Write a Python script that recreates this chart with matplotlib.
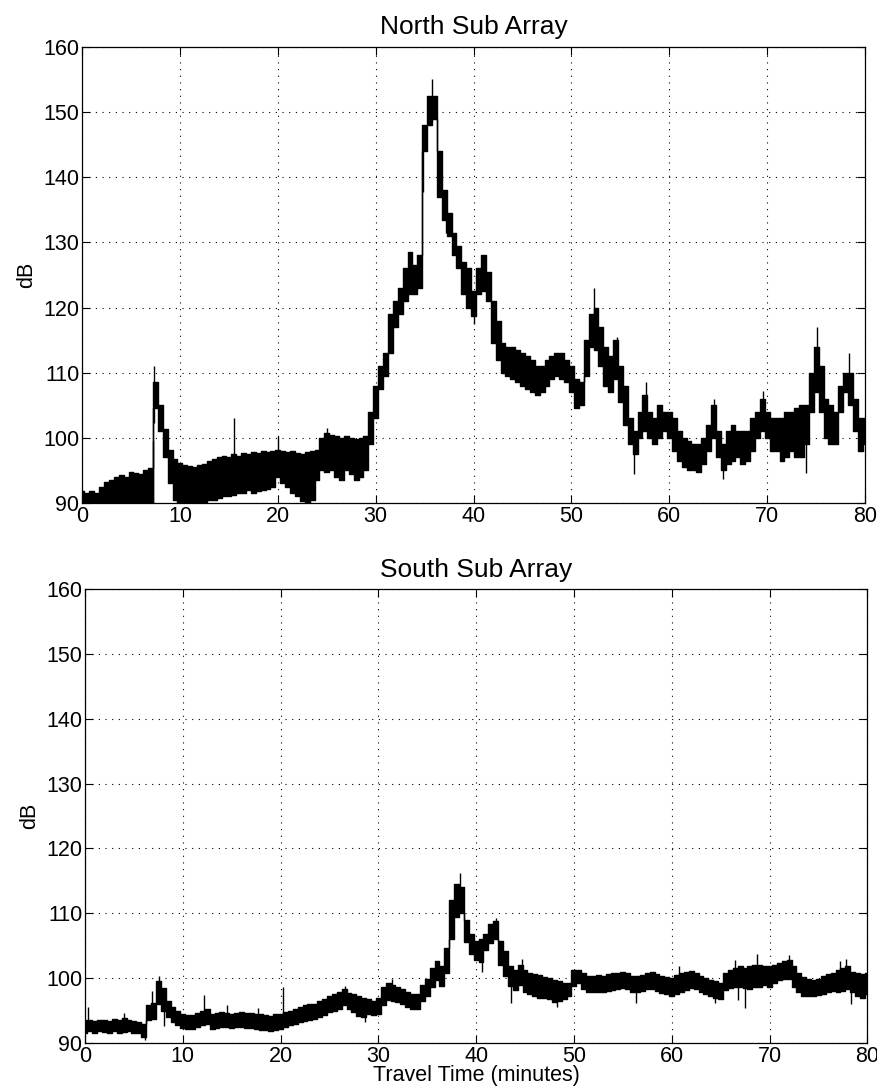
"""North / South sub array received level vs travel time"""

import numpy as np
import matplotlib
matplotlib.use('Agg')
import matplotlib.pyplot as plt

plt.rcParams['font.family'] = ['Liberation Sans', 'DejaVu Sans']

# time axis, minutes (one reading every half minute)
t = np.arange(0, 80.5, 0.5)

# North sub array: lower / upper edge of the noisy trace (dB)
north_lo = [90, 90, 90, 90, 90, 90, 90, 90, 90, 90,
            90, 90, 90, 90, 90, 104.5, 101, 97, 93, 90.5,
            90, 90, 90, 90, 90, 90, 90.5, 90.5, 90.8, 91,
            91, 91.2, 91.5, 91.5, 92, 91.5, 91.8, 92, 92.2, 92.5,
            94, 93, 92.5, 91.5, 91, 90.3, 90, 90.5, 93.5, 95,
            94.8, 95, 94, 93.5, 95, 94.5, 93.5, 94, 95, 99,
            103, 107.5, 109.5, 113, 117, 119, 121, 122, 122, 123,
            144, 148, 149, 137, 133.5, 131, 128, 126, 122, 120,
            118.7, 122, 122.5, 121, 114.5, 112, 110, 109.5, 109, 108.5,
            108, 107.5, 107, 106.5, 107, 108, 109, 109.5, 109, 108.5,
            107, 104.5, 105, 109.5, 114, 113.5, 111, 108, 107, 109,
            105.5, 102, 99, 97.5, 100, 101, 100, 99, 100, 101,
            100, 98, 96.5, 95.5, 95, 95, 94.8, 96, 98, 100,
            97, 95, 96, 96.5, 97, 96, 96.5, 98, 100, 101,
            100, 98, 98, 96.5, 97, 98, 97, 97, 99, 104,
            107, 104, 100, 99, 99, 104, 107, 105, 101, 98,
            99]
north_hi = [91.8, 91.5, 91.8, 91.6, 92.5, 93.2, 93.5, 94, 94.3, 94,
            94.8, 94.6, 94.5, 95, 95.3, 108.5, 105, 101.3, 98.2, 96.7,
            96.2, 95.8, 95.6, 95.5, 95.8, 96, 96.5, 96.8, 97, 97.2,
            97, 97.5, 97.2, 97.6, 97.5, 97.8, 97.6, 98, 97.8, 98,
            98.2, 98, 97.8, 98, 97.6, 97.5, 97.8, 98, 98.2, 100,
            100.8, 100.5, 100.2, 100, 100.3, 100, 99.8, 100, 100.2, 104,
            108, 111, 113, 119, 121, 123, 126, 128.5, 126.5, 128,
            148, 152.5, 152.5, 144, 138, 134.5, 131.5, 129.5, 127, 126,
            122.5, 126, 128, 125.5, 121, 118, 114.5, 114, 114, 113.5,
            113, 112.5, 112, 111, 111, 112, 112.5, 113, 113, 112,
            111, 109, 108.5, 115, 119, 120, 117, 114, 112.5, 115,
            111, 108, 103, 101, 104, 106.5, 104, 103, 105, 104,
            104, 103, 101, 100, 99.5, 99, 99, 100, 102, 105,
            101, 99, 101, 102, 101, 101, 101, 103, 104, 106,
            104, 103, 103, 103, 104, 104, 104.5, 105, 105, 110,
            114, 111, 106, 105, 104, 108, 110, 110, 106, 103,
            103]
# single-sample spikes in the North trace: time, peak value
north_spike_t = [7.25, 7.35, 15.5, 20.0, 25.0, 34.8, 35.8, 37.2, 40.0,
                 52.3, 54.6, 56.4, 57.6, 64.6, 65.5, 69.6, 74.0, 75.1, 78.3]
north_spike_y = [90, 111, 103, 100.3, 101.5, 146, 155, 131.5, 117.5,
                 123, 115.5, 94.5, 108.5, 106, 93.6, 107.2, 94.6, 117, 113]

# South sub array: lower / upper edge of the noisy trace (dB)
south_lo = [91.5, 91.8, 91.6, 91.8, 91.7, 91.6, 91.8, 91.6, 91.7, 91.8,
            91.5, 91.6, 91.0, 93.5, 93.7, 96.0, 95.0, 94.0, 93.3, 92.8,
            92.3, 92.2, 92.2, 92.5, 92.8, 93.0, 92.2, 92.3, 92.5, 92.4,
            92.3, 92.5, 92.4, 92.3, 92.3, 92.2, 92.0, 92.0, 91.8, 92.0,
            92.2, 92.5, 92.8, 93.0, 93.3, 93.4, 93.5, 93.7, 94.0, 94.3,
            94.8, 95.0, 95.3, 95.8, 95.3, 94.8, 94.2, 94.0, 94.5, 94.3,
            94.5, 95.8, 96.7, 96.5, 96.3, 96.0, 95.6, 95.3, 95.2, 96.5,
            97.2, 98.7, 99.7, 98.8, 100.8, 106.0, 109.5, 110.0, 105.5, 103.8,
            102.8, 102.5, 104.3, 105.4, 106.0, 102.0, 100.3, 98.8, 98.2, 99.0,
            97.8, 97.5, 97.2, 97.0, 97.0, 96.8, 96.3, 96.5, 96.8, 97.3,
            98.8, 99.2, 98.3, 97.8, 97.8, 97.9, 97.9, 98.0, 98.2, 98.3,
            98.5, 98.3, 97.8, 97.9, 98.0, 98.3, 98.4, 98.0, 97.7, 97.5,
            97.2, 97.6, 97.8, 98.2, 98.5, 98.3, 97.9, 97.5, 97.2, 97.0,
            96.8, 98.2, 98.5, 98.7, 98.7, 98.5, 98.4, 98.7, 98.7, 99.0,
            98.7, 99.3, 99.7, 99.8, 99.8, 98.7, 97.8, 97.3, 97.2, 97.3,
            97.4, 97.6, 97.8, 98.0, 97.8, 98.0, 98.3, 97.8, 97.2, 97.0,
            97.5]
south_hi = [93.5, 93.6, 93.4, 93.5, 93.6, 93.4, 93.7, 93.5, 93.8, 93.6,
            93.4, 93.3, 93.0, 95.8, 96.2, 99.5, 98.5, 96.5, 95.6, 95.0,
            94.4, 94.3, 94.3, 94.6, 95.0, 95.3, 94.5, 94.6, 94.8, 94.6,
            94.5, 94.7, 94.8, 94.6, 94.7, 94.5, 94.4, 94.3, 94.2, 94.4,
            94.5, 94.8, 95.0, 95.3, 95.6, 95.8, 96.0, 96.0, 96.5, 96.8,
            97.2, 97.5, 97.8, 98.3, 97.7, 97.5, 97.2, 97.0, 96.8, 96.5,
            97.0, 98.6, 99.2, 99.0, 98.6, 98.3, 97.8, 97.6, 97.6, 99.0,
            99.8, 101.6, 102.6, 101.8, 104.6, 112.0, 114.5, 114.0, 109.0, 106.8,
            105.8, 106.0, 106.8, 108.3, 108.8, 105.8, 104.2, 101.8, 101.2, 102.0,
            101.2, 100.8, 100.7, 100.5, 100.2, 100.0, 99.7, 99.5, 99.3, 99.2,
            101.2, 101.3, 100.8, 100.3, 100.3, 100.5, 100.4, 100.6, 100.8, 100.8,
            101.0, 100.8, 100.3, 100.4, 100.5, 100.8, 100.9, 100.6, 100.3, 100.2,
            100.0, 100.5, 100.8, 101.0, 101.1, 100.8, 100.3, 100.0, 99.7, 99.5,
            99.2, 100.8, 101.2, 101.5, 101.8, 101.5, 101.8, 102.0, 102.0, 101.8,
            101.8, 102.0, 102.3, 102.6, 102.8, 101.8, 100.8, 100.2, 99.8, 99.7,
            99.8, 100.3, 100.6, 100.8, 101.3, 101.5, 101.8, 101.0, 100.8, 100.6,
            100.8]
south_spike_t = [0.3, 4.0, 6.1, 6.9, 7.6, 8.1, 12.2, 14.5, 17.7, 20.3,
                 26.6, 28.6, 31.4, 38.3, 40.6, 42.0, 43.6, 44.7, 48.3, 56.3,
                 60.7, 64.4, 66.5, 66.8, 67.5, 68.7, 72.0, 77.2, 77.8, 78.3]
south_spike_y = [95.5, 94.6, 90.5, 98, 100.4, 92.6, 97.4, 95.8, 95.4, 98.7,
                 98.8, 93.3, 99.8, 116.2, 101, 109.3, 96.2, 103, 95.5, 96.1,
                 101.8, 96.1, 102.8, 96.6, 95.4, 103.8, 103.6, 102.6, 103, 96.0]


def draw_trace(ax, lo, hi, spike_t, spike_y):
    """Draw the noisy level trace as a filled band plus single spikes"""
    lo = np.array(lo)
    hi = np.array(hi)
    ax.fill_between(t, lo, hi, color='k', lw=0, step='mid')
    ax.plot(t, lo, color='k', lw=1.0, drawstyle='steps-mid')
    ax.plot(t, hi, color='k', lw=1.0, drawstyle='steps-mid')
    base = np.interp(spike_t, t, (lo + hi) / 2)
    ax.vlines(spike_t, base, spike_y, color='k', lw=1.0)


def style_axes(ax, title):
    ax.set_xlim(0, 80)
    ax.set_ylim(90, 160)
    ax.set_xticks(range(0, 81, 10))
    ax.set_yticks(range(90, 161, 10))
    ax.grid(True, color='k', linestyle=(0, (1, 5)), lw=0.8)
    ax.tick_params(direction='in', top=True, right=True, length=6,
                   labelsize=15.5, pad=2, width=0.8)
    for s in ax.spines.values():
        s.set_linewidth(0.9)
    ax.set_title(title, fontsize=19, pad=9)
    ax.set_ylabel('dB', fontsize=15.5, labelpad=4)


fig = plt.figure(figsize=(8.78, 10.91), dpi=100)

ax1 = fig.add_axes([0.0934, 0.539, 0.892, 0.418])
draw_trace(ax1, north_lo, north_hi, north_spike_t, north_spike_y)
style_axes(ax1, 'North Sub Array')

ax2 = fig.add_axes([0.0968, 0.044, 0.891, 0.416])
draw_trace(ax2, south_lo, south_hi, south_spike_t, south_spike_y)
style_axes(ax2, 'South Sub Array')
ax2.set_xlabel('Travel Time (minutes)', fontsize=15.5, labelpad=-1)

fig.savefig('out.png', dpi=100)
